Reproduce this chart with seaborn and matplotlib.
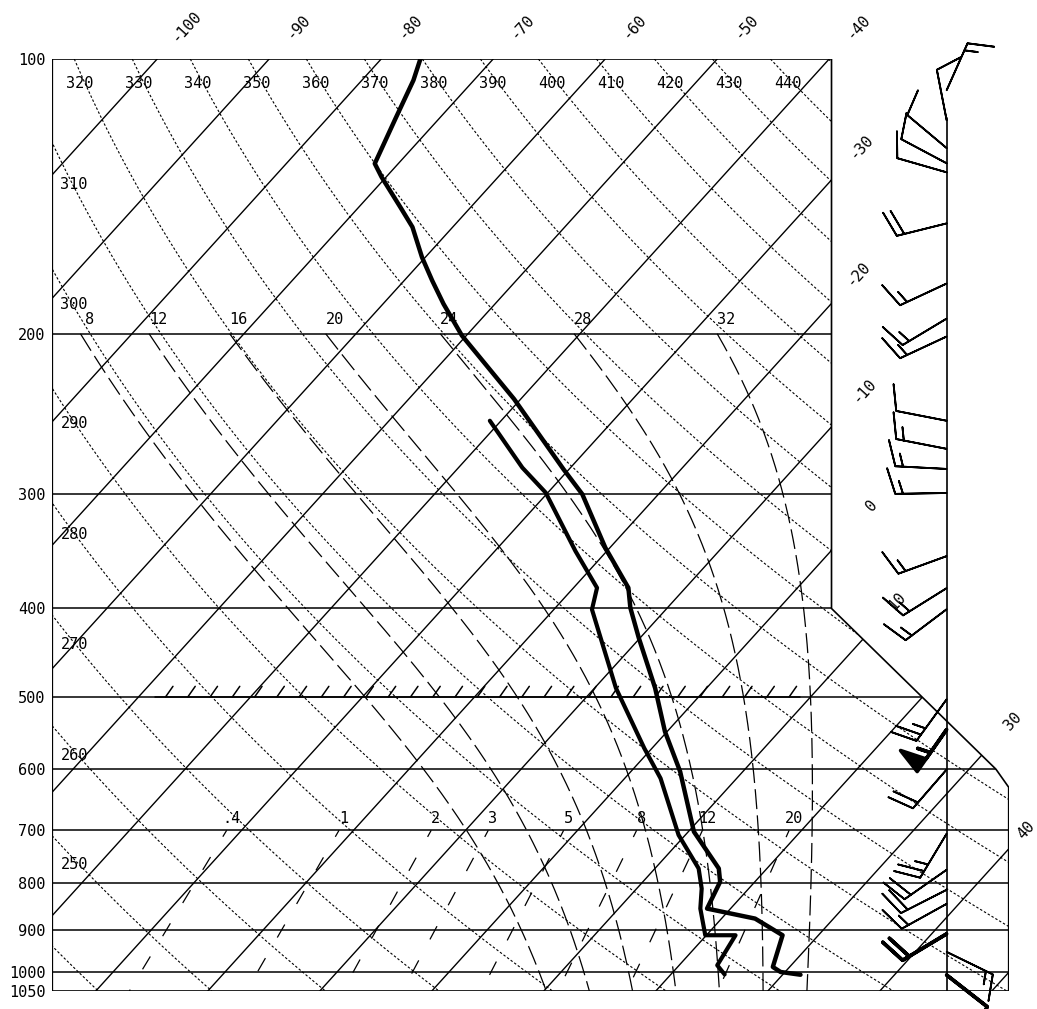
import numpy as np
import pandas as pd
import matplotlib
matplotlib.use("Agg")
import matplotlib.pyplot as plt
import seaborn as sns
from matplotlib.patches import Polygon
from matplotlib import patheffects

# ---------------- data ----------------
pressure_ticks = [100, 200, 300, 400, 500, 600, 700, 800, 900, 1000, 1050]
isobars = [200, 300, 400, 500, 600, 700, 800, 900, 1000]
isotherms = list(range(-150, 71, 10))
isotherm_top_labels = [-100, -90, -80, -70, -60, -50, -40]
isotherm_side_labels = [-30, -20, -10, 0, 10, 30, 40]
dry_thetas = list(range(230, 471, 10))
dry_top_labels = [320, 330, 340, 350, 360, 370, 380, 390, 400, 410, 420, 430, 440]
dry_left_labels = [310, 300, 290, 280, 270, 260, 250]
moist_thetaw = [8, 12, 16, 20, 24, 28, 32]
mixing_ratios = [0.4, 1, 2, 3, 5, 8, 12, 20]
mixing_labels = [".4", "1", "2", "3", "5", "8", "12", "20"]

temp_p = [100, 105.5, 116.2, 130.2, 134.7, 145.3, 152.8, 164.9, 174.9, 185.5,
          200.9, 235.8, 281.5, 299.8, 343.2, 379.7, 399.4, 431.0, 488.9, 545.6,
          603.6, 702.5, 770.8, 797.2, 852.9, 874.7, 912.2, 988.2, 1000.8, 1007.8]
temp_c = [-76.5, -75.4, -73.9, -72.1, -70.4, -66.3, -63.6, -60.3, -57.5, -54.6,
          -50.4, -40.6, -30.5, -26.8, -20.4, -15.1, -13.3, -10.1, -4.6, -0.2,
          4.4, 10.5, 15.7, 16.9, 17.9, 23.0, 26.8, 28.5, 29.6, 31.6]
dewp_p = [249.1, 280.4, 298.6, 346.1, 379.7, 401.0, 488.9, 569.0, 614.0, 708.4,
          770.8, 810.9, 852.9, 912.2, 912.2, 984.0, 1007.0]
dewp_c = [-41.0, -34.3, -30.2, -22.8, -17.9, -16.6, -8.1, -0.7, 3.2, 9.4,
          13.9, 15.8, 17.3, 19.9, 22.6, 23.4, 24.8]

barb_p = [108.2, 116.7, 125.2, 130.1, 133.1, 151.4, 176.2, 192.5, 201.4, 249.1,
          267.4, 281.3, 298.9, 350.5, 380.0, 400.8, 503.0, 542.8, 600.5, 706.0,
          773.3, 813.4, 842.7, 909.0, 951.4, 1008.5]
barb_dir = [24, 349, 310, 298, 286, 256, 245, 239, 245, 281,
            281, 273, 269, 250, 238, 233, 216, 215, 221, 211,
            235, 243, 241, 239, 116, 128]
barb_spd = [15, 10, 10, 10, 10, 20, 15, 15, 15, 10,
            15, 15, 15, 15, 15, 15, 25, 55, 20, 25,
            20, 20, 15, 20, 15, 10]
barb_bold = [False] * 17 + [True] + [False] * 5 + [True, False, True]

# ---------------- geometry / style ----------------
SKEW = 32.1
X_LEFT = -35.45
X_RIGHT = 49.94
X_BOX = 34.12
X_WIND = 44.4
FONT = ["DejaVu Sans Mono"]
FS = 11


def skx(t, p):
    return np.asarray(t, float) + SKEW * np.log(1000.0 / np.asarray(p, float))


Rd, CP, LV, EPS = 287.04, 1005.7, 2.452e6, 0.622


def esat(tk):
    tc = tk - 273.15
    return 6.112 * np.exp(17.67 * tc / (tc + 243.5))


def dtdp(p, tk):
    es = esat(tk)
    rs = EPS * es / (p - es)
    return (Rd * tk + LV * rs) / (p * (CP + LV * LV * rs * EPS / (Rd * tk * tk)))


def moist_curve(tw, p_end, step):
    ps = [1000.0]
    ts = [tw + 273.15]
    p, t = 1000.0, tw + 273.15
    while (step < 0 and p > p_end) or (step > 0 and p < p_end):
        h = step
        k1 = dtdp(p, t)
        k2 = dtdp(p + h / 2, t + h / 2 * k1)
        k3 = dtdp(p + h / 2, t + h / 2 * k2)
        k4 = dtdp(p + h, t + h * k3)
        t = t + h / 6 * (k1 + 2 * k2 + 2 * k3 + k4)
        p = p + h
        ps.append(p)
        ts.append(t)
    return np.array(ps), np.array(ts) - 273.15


sns.set_theme(style="white")
plt.rcParams["font.family"] = FONT
plt.rcParams["text.color"] = "black"
plt.rcParams["ytick.color"] = "black"
plt.rcParams["xtick.color"] = "black"
plt.rcParams["axes.labelcolor"] = "black"

fig = plt.figure(figsize=(10.37, 10.09), dpi=100)
ax = fig.add_axes([52.3 / 1037, 18 / 1009, 956.4 / 1037, 932 / 1009])
ax.set_yscale("log")
ax.set_xlim(X_LEFT, X_RIGHT)
ax.set_ylim(1050, 100)
for s in ax.spines.values():
    s.set_visible(False)
ax.set_xticks([])
ax.set_yticks(pressure_ticks)
ax.set_yticklabels([str(v) for v in pressure_ticks], fontsize=FS, family=FONT,
                   color="black")
ax.yaxis.set_minor_locator(matplotlib.ticker.NullLocator())
ax.tick_params(axis="y", length=0, pad=5, colors="black")

border = Polygon([(X_LEFT, 100), (X_BOX, 100), (X_BOX, 400), (48.8, 600),
                  (X_RIGHT, 628), (X_RIGHT, 1050), (X_LEFT, 1050)],
                 closed=True, fill=False, edgecolor="black", lw=1.2,
                 transform=ax.transData, zorder=5)
ax.add_patch(border)


def clipped(lines):
    for ln in lines:
        ln.set_clip_path(border)


# isobars
for p in isobars:
    clipped(ax.plot([X_LEFT, X_RIGHT], [p, p], color="black", lw=1.1))

# isotherms
pp = np.array([100.0, 1050.0])
for t in isotherms:
    clipped(ax.plot(skx(t, pp), pp, color="black", lw=1.0))

# dry adiabats
pd_ = np.geomspace(100, 1050, 200)
for th in dry_thetas:
    tc = th * (pd_ / 1000.0) ** 0.2857 - 273.15
    clipped(ax.plot(skx(tc, pd_), pd_, color="black", lw=0.8,
                    linestyle=(0, (2.2, 1.8))))

# moist adiabats
moist_x200 = {}
for tw in moist_thetaw:
    pu, tu = moist_curve(tw, 200.0, -2.0)
    pdn, tdn = moist_curve(tw, 1050.0, 2.0)
    pm = np.concatenate([pu[::-1], pdn[1:]])
    tm = np.concatenate([tu[::-1], tdn[1:]])
    moist_x200[tw] = skx(tu[-1], 200.0)
    clipped(ax.plot(skx(tm, pm), pm, color="black", lw=0.9,
                    linestyle=(0, (16, 5))))

# mixing ratio lines
pw = np.array([700.0, 1050.0])
mix_x700 = []
for w in mixing_ratios:
    e = (w / 1000.0) * pw / (EPS + w / 1000.0)
    lg = np.log(e / 6.112)
    td = 243.5 * lg / (17.67 - lg)
    mix_x700.append(skx(td[0], 700.0))
    clipped(ax.plot(skx(td, pw), pw, color="black", lw=0.9,
                    linestyle=(6, (12, 19))))

# hatched 500 hPa segment
ax.plot([-26.3, 31.3], [500, 500], color="black", lw=1.1,
        path_effects=[patheffects.withTickedStroke(spacing=15.5, angle=55,
                                                   length=0.6, linewidth=1.1)])

# wind column line
ax.plot([X_WIND, X_WIND], [116.0, 1050.0], color="black", lw=1.2)

# sounding (seaborn)
df_t = pd.DataFrame({"x": skx(temp_c, temp_p), "p": temp_p})
df_d = pd.DataFrame({"x": skx(dewp_c, dewp_p), "p": dewp_p})
sns.lineplot(data=df_t, x="x", y="p", sort=False, estimator=None,
             color="black", lw=3.2, ax=ax, zorder=6)
sns.lineplot(data=df_d, x="x", y="p", sort=False, estimator=None,
             color="black", lw=3.0, ax=ax, zorder=6)
ax.set_xlabel("")
ax.set_ylabel("")

# wind barbs
spd = np.array(barb_spd, float)
dr = np.deg2rad(barb_dir)
u = -spd * np.sin(dr)
v = -spd * np.cos(dr)
bold = np.array(barb_bold)
bp = np.array(barb_p)
for mask, lw in ((~bold, 1.3), (bold, 2.6)):
    ax.barbs(np.full(mask.sum(), X_WIND), bp[mask], u[mask], v[mask],
             length=8.6, linewidth=lw, color="black", clip_on=False,
             sizes=dict(height=0.5, spacing=0.15, width=0.3, emptybarb=0.0),
             barb_increments=dict(half=5, full=10, flag=50), zorder=7)

# ---------------- labels ----------------
ROT = 47.7
for t in isotherm_top_labels:
    ax.text(skx(t, 92.2), 92.2, str(t), rotation=ROT, rotation_mode="anchor",
            ha="center", va="center", fontsize=FS, family=FONT, clip_on=False)
side_p = [124.9, 171.8, 230.9, 308.9, 392.7, 531.9, 700.0]
for t, p in zip(isotherm_side_labels, side_p):
    ax.text(skx(t, p), p, str(t), rotation=ROT, rotation_mode="anchor",
            ha="center", va="center", fontsize=FS, family=FONT, clip_on=False)

P_TOP = 106.3
for th in dry_top_labels:
    tc = th * (P_TOP / 1000.0) ** 0.2857 - 273.15
    ax.text(skx(tc, P_TOP) - 0.5, P_TOP, str(th), ha="center", va="center",
            fontsize=FS, family=FONT)
left_p = [137.2, 185.8, 251.0, 331.5, 437.8, 579.7, 763.6]
for th, p in zip(dry_left_labels, left_p):
    ax.text(-33.5, p, str(th), ha="center", va="center", fontsize=FS, family=FONT)

for tw in moist_thetaw:
    ax.text(moist_x200[tw] + 0.8, 193.0, str(tw), ha="center", va="center",
            fontsize=FS, family=FONT)

for lab, xm in zip(mixing_labels, mix_x700):
    ax.text(xm + 0.4, 680.0, lab, ha="center", va="center", fontsize=FS, family=FONT)

fig.savefig("out.png", dpi=100)
